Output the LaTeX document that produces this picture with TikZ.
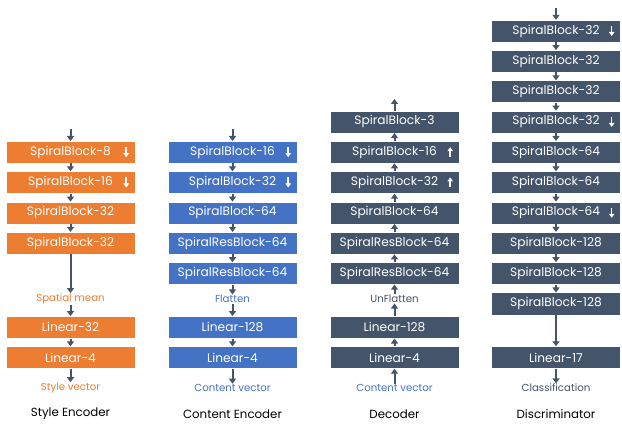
\documentclass[tikz,border=0pt]{standalone}
\usepackage{fontspec}
\setmainfont{Poppins}
\usetikzlibrary{arrows.meta}
\definecolor{corange}{HTML}{ED7D31}
\definecolor{cblue}{HTML}{4472C4}
\definecolor{cdark}{HTML}{44546A}
\begin{document}
\begin{tikzpicture}[x=1pt,y=-1pt,
 blk/.style={minimum width=129pt, minimum height=22pt, inner sep=0pt, text=white, font=\fontsize{12.2}{13}\selectfont, draw=white, line width=0.4pt},
 oblk/.style={blk, fill=corange}, bblk/.style={blk, fill=cblue}, dblk/.style={blk, fill=cdark},
 arr/.style={draw=cdark, line width=2pt, -{Triangle[width=7pt,length=5pt]}},
 warr/.style={draw=white, line width=1.5pt, -{Triangle[width=5.5pt,length=4pt]}},
 lbl/.style={font=\fontsize{10.2}{11}\selectfont, inner sep=0.5pt},
 ttl/.style={font=\fontsize{11.8}{13}\selectfont, text=black, inner sep=1pt}]
\useasboundingbox (0,0) rectangle (622,425);
% ---------------- Style Encoder
\node[oblk] (s1) at (70.5,152.2) {SpiralBlock-8};
\node[oblk] (s2) at (70.5,182.5) {SpiralBlock-16};
\node[oblk] (s3) at (70.5,212.8) {SpiralBlock-32};
\node[oblk] (s4) at (70.5,243.1) {SpiralBlock-32};
\node[lbl, text=corange] (sm) at (70.5,299) {Spatial mean};
\node[oblk] (s5) at (70.5,327.3) {Linear-32};
\node[oblk] (s6) at (70.5,357.5) {Linear-4};
\node[lbl, text=corange] (sv) at (70.5,388) {Style vector};
\node[ttl] (st) at (70.5,414) {Style Encoder};
\coordinate (stop) at (70.5,129);
\draw[arr] (stop) -- (s1.north);
\draw[arr] (s1) -- (s2);
\draw[arr] (s2) -- (s3);
\draw[arr] (s3) -- (s4);
\draw[arr] (s4) -- (sm);
\draw[arr] (sm) -- (s5);
\draw[arr] (s5) -- (s6);
\draw[arr] (s6) -- (sv);
\draw[warr] ([xshift=-9pt,yshift=5pt]s1.east) -- ([xshift=-9pt,yshift=-5pt]s1.east);
\draw[warr] ([xshift=-9pt,yshift=5pt]s2.east) -- ([xshift=-9pt,yshift=-5pt]s2.east);
% ---------------- Content Encoder
\node[bblk] (c1) at (232.5,152.2) {SpiralBlock-16};
\node[bblk] (c2) at (232.5,182.5) {SpiralBlock-32};
\node[bblk] (c3) at (232.5,212.8) {SpiralBlock-64};
\node[bblk] (c4) at (232.5,243.1) {SpiralResBlock-64};
\node[bblk] (c5) at (232.5,273.4) {SpiralResBlock-64};
\node[lbl, text=cblue] (cf) at (232.5,299) {Flatten};
\node[bblk] (c6) at (232.5,327.3) {Linear-128};
\node[bblk] (c7) at (232.5,357.5) {Linear-4};
\node[lbl, text=cblue] (cv) at (232.5,388) {Content vector};
\node[ttl] (ct) at (232.5,414) {Content Encoder};
\coordinate (ctop) at (232.5,129);
\draw[arr] (ctop) -- (c1.north);
\draw[arr] (c1) -- (c2);
\draw[arr] (c2) -- (c3);
\draw[arr] (c3) -- (c4);
\draw[arr] (c4) -- (c5);
\draw[arr] (c5) -- (cf);
\draw[arr] (cf) -- (c6);
\draw[arr] (c6) -- (c7);
\draw[arr] (c7) -- (cv);
\draw[warr] ([xshift=-9pt,yshift=5pt]c1.east) -- ([xshift=-9pt,yshift=-5pt]c1.east);
\draw[warr] ([xshift=-9pt,yshift=5pt]c2.east) -- ([xshift=-9pt,yshift=-5pt]c2.east);
% ---------------- Decoder
\node[dblk] (d0) at (394.5,121.9) {SpiralBlock-3};
\node[dblk] (d1) at (394.5,152.2) {SpiralBlock-16};
\node[dblk] (d2) at (394.5,182.5) {SpiralBlock-32};
\node[dblk] (d3) at (394.5,212.8) {SpiralBlock-64};
\node[dblk] (d4) at (394.5,243.1) {SpiralResBlock-64};
\node[dblk] (d5) at (394.5,273.4) {SpiralResBlock-64};
\node[lbl, text=cdark] (du) at (394.5,299) {UnFlatten};
\node[dblk] (d6) at (394.5,327.3) {Linear-128};
\node[dblk] (d7) at (394.5,357.5) {Linear-4};
\node[lbl, text=cblue] (dv) at (394.5,388) {Content vector};
\node[ttl] (dt) at (394.5,414) {Decoder};
\coordinate (dtop) at (394.5,99);
\draw[arr] (d0.north) -- (dtop);
\draw[arr] (d1) -- (d0);
\draw[arr] (d2) -- (d1);
\draw[arr] (d3) -- (d2);
\draw[arr] (d4) -- (d3);
\draw[arr] (d5) -- (d4);
\draw[arr] (du) -- (d5);
\draw[arr] (d6) -- (du);
\draw[arr] (d7) -- (d6);
\draw[arr] (dv) -- (d7);
\draw[warr] ([xshift=-9pt,yshift=-5pt]d1.east) -- ([xshift=-9pt,yshift=5pt]d1.east);
\draw[warr] ([xshift=-9pt,yshift=-5pt]d2.east) -- ([xshift=-9pt,yshift=5pt]d2.east);
% ---------------- Discriminator
\node[dblk] (x0) at (556,31) {SpiralBlock-32};
\node[dblk] (x1) at (556,61.3) {SpiralBlock-32};
\node[dblk] (x2) at (556,91.6) {SpiralBlock-32};
\node[dblk] (x3) at (556,121.9) {SpiralBlock-32};
\node[dblk] (x4) at (556,152.2) {SpiralBlock-64};
\node[dblk] (x5) at (556,182.5) {SpiralBlock-64};
\node[dblk] (x6) at (556,212.8) {SpiralBlock-64};
\node[dblk] (x7) at (556,243.1) {SpiralBlock-128};
\node[dblk] (x8) at (556,273.4) {SpiralBlock-128};
\node[dblk] (x9) at (556,303.7) {SpiralBlock-128};
\node[dblk] (x10) at (556,357.5) {Linear-17};
\node[lbl, text=cdark] (xc) at (556,388) {Classification};
\node[ttl] (xt) at (556,414) {Discriminator};
\coordinate (xtop) at (556,8);
\draw[arr] (xtop) -- (x0.north);
\draw[arr] (x0) -- (x1);
\draw[arr] (x1) -- (x2);
\draw[arr] (x2) -- (x3);
\draw[arr] (x3) -- (x4);
\draw[arr] (x4) -- (x5);
\draw[arr] (x5) -- (x6);
\draw[arr] (x6) -- (x7);
\draw[arr] (x7) -- (x8);
\draw[arr] (x8) -- (x9);
\draw[arr] (x9) -- (x10);
\draw[arr] (x10) -- (xc);
\draw[warr] ([xshift=-9pt,yshift=5pt]x0.east) -- ([xshift=-9pt,yshift=-5pt]x0.east);
\draw[warr] ([xshift=-9pt,yshift=5pt]x3.east) -- ([xshift=-9pt,yshift=-5pt]x3.east);
\draw[warr] ([xshift=-9pt,yshift=5pt]x6.east) -- ([xshift=-9pt,yshift=-5pt]x6.east);
\end{tikzpicture}
\end{document}
